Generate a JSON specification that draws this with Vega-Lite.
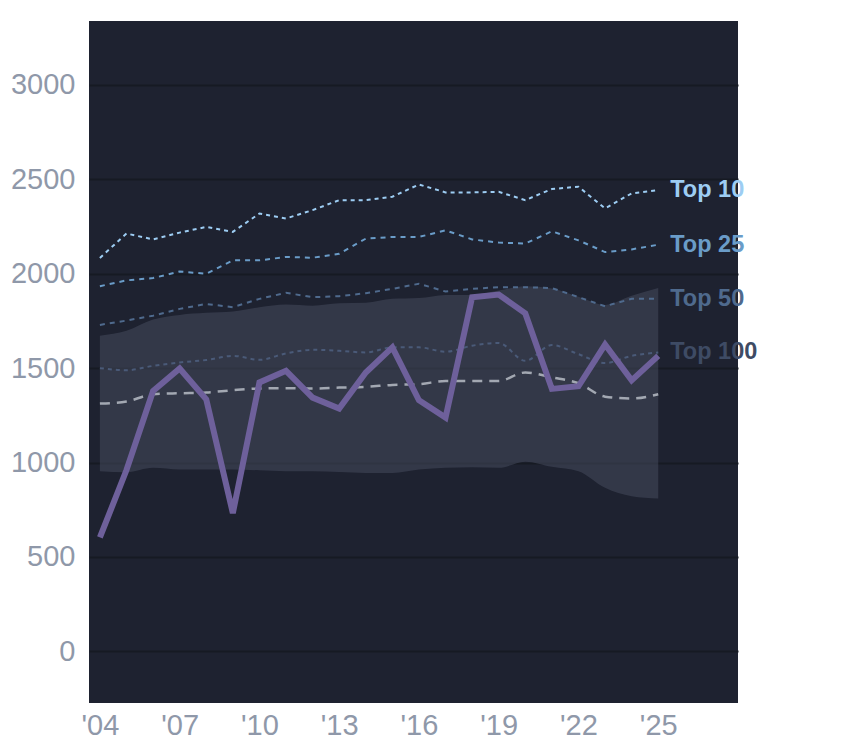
{
  "$schema": "https://vega.github.io/schema/vega-lite/v6.json",
  "width": 649,
  "height": 682,
  "autosize": "none",
  "padding": {"left": 89, "top": 21, "right": 106, "bottom": 45},
  "background": "#ffffff",
  "config": {
    "view": {"fill": "#1e2230", "stroke": null},
    "font": "Liberation Sans"
  },
  "datasets": {
    "band": [
      {"year": 2004, "lo": 954, "hi": 1672},
      {"year": 2005, "lo": 949, "hi": 1698},
      {"year": 2006, "lo": 972, "hi": 1757},
      {"year": 2007, "lo": 963, "hi": 1782},
      {"year": 2008, "lo": 963, "hi": 1793},
      {"year": 2009, "lo": 963, "hi": 1800},
      {"year": 2010, "lo": 959, "hi": 1823},
      {"year": 2011, "lo": 954, "hi": 1837},
      {"year": 2012, "lo": 954, "hi": 1831},
      {"year": 2013, "lo": 950, "hi": 1844},
      {"year": 2014, "lo": 945, "hi": 1846},
      {"year": 2015, "lo": 945, "hi": 1867},
      {"year": 2016, "lo": 963, "hi": 1871},
      {"year": 2017, "lo": 972, "hi": 1888},
      {"year": 2018, "lo": 975, "hi": 1888},
      {"year": 2019, "lo": 972, "hi": 1911},
      {"year": 2020, "lo": 1004, "hi": 1934},
      {"year": 2021, "lo": 977, "hi": 1922},
      {"year": 2022, "lo": 954, "hi": 1878},
      {"year": 2023, "lo": 866, "hi": 1835},
      {"year": 2024, "lo": 821, "hi": 1883},
      {"year": 2025, "lo": 809, "hi": 1925}
    ],
    "tops": [
      {"year": 2004, "series": "Top 10", "value": 2084},
      {"year": 2005, "series": "Top 10", "value": 2213},
      {"year": 2006, "series": "Top 10", "value": 2182},
      {"year": 2007, "series": "Top 10", "value": 2218},
      {"year": 2008, "series": "Top 10", "value": 2248},
      {"year": 2009, "series": "Top 10", "value": 2222},
      {"year": 2010, "series": "Top 10", "value": 2319},
      {"year": 2011, "series": "Top 10", "value": 2293},
      {"year": 2012, "series": "Top 10", "value": 2337},
      {"year": 2013, "series": "Top 10", "value": 2390},
      {"year": 2014, "series": "Top 10", "value": 2390},
      {"year": 2015, "series": "Top 10", "value": 2408},
      {"year": 2016, "series": "Top 10", "value": 2473},
      {"year": 2017, "series": "Top 10", "value": 2431},
      {"year": 2018, "series": "Top 10", "value": 2431},
      {"year": 2019, "series": "Top 10", "value": 2434},
      {"year": 2020, "series": "Top 10", "value": 2390},
      {"year": 2021, "series": "Top 10", "value": 2449},
      {"year": 2022, "series": "Top 10", "value": 2461},
      {"year": 2023, "series": "Top 10", "value": 2346},
      {"year": 2024, "series": "Top 10", "value": 2426},
      {"year": 2025, "series": "Top 10", "value": 2443},
      {"year": 2004, "series": "Top 25", "value": 1934},
      {"year": 2005, "series": "Top 25", "value": 1965},
      {"year": 2006, "series": "Top 25", "value": 1977},
      {"year": 2007, "series": "Top 25", "value": 2012},
      {"year": 2008, "series": "Top 25", "value": 2000},
      {"year": 2009, "series": "Top 25", "value": 2071},
      {"year": 2010, "series": "Top 25", "value": 2071},
      {"year": 2011, "series": "Top 25", "value": 2089},
      {"year": 2012, "series": "Top 25", "value": 2085},
      {"year": 2013, "series": "Top 25", "value": 2106},
      {"year": 2014, "series": "Top 25", "value": 2186},
      {"year": 2015, "series": "Top 25", "value": 2195},
      {"year": 2016, "series": "Top 25", "value": 2195},
      {"year": 2017, "series": "Top 25", "value": 2230},
      {"year": 2018, "series": "Top 25", "value": 2182},
      {"year": 2019, "series": "Top 25", "value": 2165},
      {"year": 2020, "series": "Top 25", "value": 2160},
      {"year": 2021, "series": "Top 25", "value": 2225},
      {"year": 2022, "series": "Top 25", "value": 2177},
      {"year": 2023, "series": "Top 25", "value": 2115},
      {"year": 2024, "series": "Top 25", "value": 2129},
      {"year": 2025, "series": "Top 25", "value": 2154},
      {"year": 2004, "series": "Top 50", "value": 1729},
      {"year": 2005, "series": "Top 50", "value": 1752},
      {"year": 2006, "series": "Top 50", "value": 1778},
      {"year": 2007, "series": "Top 50", "value": 1814},
      {"year": 2008, "series": "Top 50", "value": 1840},
      {"year": 2009, "series": "Top 50", "value": 1823},
      {"year": 2010, "series": "Top 50", "value": 1867},
      {"year": 2011, "series": "Top 50", "value": 1899},
      {"year": 2012, "series": "Top 50", "value": 1876},
      {"year": 2013, "series": "Top 50", "value": 1881},
      {"year": 2014, "series": "Top 50", "value": 1897},
      {"year": 2015, "series": "Top 50", "value": 1920},
      {"year": 2016, "series": "Top 50", "value": 1947},
      {"year": 2017, "series": "Top 50", "value": 1906},
      {"year": 2018, "series": "Top 50", "value": 1920},
      {"year": 2019, "series": "Top 50", "value": 1929},
      {"year": 2020, "series": "Top 50", "value": 1929},
      {"year": 2021, "series": "Top 50", "value": 1924},
      {"year": 2022, "series": "Top 50", "value": 1876},
      {"year": 2023, "series": "Top 50", "value": 1828},
      {"year": 2024, "series": "Top 50", "value": 1867},
      {"year": 2025, "series": "Top 50", "value": 1867},
      {"year": 2004, "series": "Top 100", "value": 1500},
      {"year": 2005, "series": "Top 100", "value": 1489},
      {"year": 2006, "series": "Top 100", "value": 1512},
      {"year": 2007, "series": "Top 100", "value": 1530},
      {"year": 2008, "series": "Top 100", "value": 1543},
      {"year": 2009, "series": "Top 100", "value": 1565},
      {"year": 2010, "series": "Top 100", "value": 1544},
      {"year": 2011, "series": "Top 100", "value": 1578},
      {"year": 2012, "series": "Top 100", "value": 1597},
      {"year": 2013, "series": "Top 100", "value": 1592},
      {"year": 2014, "series": "Top 100", "value": 1583},
      {"year": 2015, "series": "Top 100", "value": 1610},
      {"year": 2016, "series": "Top 100", "value": 1610},
      {"year": 2017, "series": "Top 100", "value": 1587},
      {"year": 2018, "series": "Top 100", "value": 1619},
      {"year": 2019, "series": "Top 100", "value": 1633},
      {"year": 2020, "series": "Top 100", "value": 1539},
      {"year": 2021, "series": "Top 100", "value": 1622},
      {"year": 2022, "series": "Top 100", "value": 1574},
      {"year": 2023, "series": "Top 100", "value": 1527},
      {"year": 2024, "series": "Top 100", "value": 1565},
      {"year": 2025, "series": "Top 100", "value": 1583}
    ],
    "median": [
      {"year": 2004, "value": 1312},
      {"year": 2005, "value": 1323},
      {"year": 2006, "value": 1362},
      {"year": 2007, "value": 1367},
      {"year": 2008, "value": 1371},
      {"year": 2009, "value": 1383},
      {"year": 2010, "value": 1392},
      {"year": 2011, "value": 1394},
      {"year": 2012, "value": 1392},
      {"year": 2013, "value": 1397},
      {"year": 2014, "value": 1401},
      {"year": 2015, "value": 1411},
      {"year": 2016, "value": 1415},
      {"year": 2017, "value": 1432},
      {"year": 2018, "value": 1432},
      {"year": 2019, "value": 1432},
      {"year": 2020, "value": 1477},
      {"year": 2021, "value": 1451},
      {"year": 2022, "value": 1420},
      {"year": 2023, "value": 1349},
      {"year": 2024, "value": 1339},
      {"year": 2025, "value": 1362}
    ],
    "main": [
      {"year": 2004, "value": 603},
      {"year": 2005, "value": 960},
      {"year": 2006, "value": 1379},
      {"year": 2007, "value": 1498},
      {"year": 2008, "value": 1335},
      {"year": 2009, "value": 732},
      {"year": 2010, "value": 1424},
      {"year": 2011, "value": 1486},
      {"year": 2012, "value": 1344},
      {"year": 2013, "value": 1286},
      {"year": 2014, "value": 1477},
      {"year": 2015, "value": 1610},
      {"year": 2016, "value": 1330},
      {"year": 2017, "value": 1238},
      {"year": 2018, "value": 1876},
      {"year": 2019, "value": 1890},
      {"year": 2020, "value": 1790},
      {"year": 2021, "value": 1390},
      {"year": 2022, "value": 1404},
      {"year": 2023, "value": 1625},
      {"year": 2024, "value": 1435},
      {"year": 2025, "value": 1565}
    ]
  },
  "layer": [
    {
      "data": {"name": "band"},
      "mark": {"type": "area", "color": "#464b5c", "opacity": 0.55, "interpolate": "monotone"},
      "encoding": {
        "x": {
          "field": "year", "type": "quantitative",
          "scale": {"domain": [2003.59, 2028.0], "nice": false, "zero": false},
          "axis": {
            "values": [2004, 2007, 2010, 2013, 2016, 2019, 2022, 2025],
            "labelExpr": "\"'\" + substring(toString(datum.value), 2)",
            "grid": false, "domain": false, "ticks": false,
            "labelFontSize": 29, "labelColor": "#8f98a9", "labelPadding": 8,
            "labelFont": "Liberation Sans", "labelFlush": false, "title": null
          }
        },
        "y": {
          "field": "lo", "type": "quantitative",
          "scale": {"domain": [-274, 3339], "nice": false, "zero": false},
          "axis": {
            "values": [0, 500, 1000, 1500, 2000, 2500, 3000],
            "format": "d",
            "grid": true, "gridColor": "#161a23", "gridWidth": 2,
            "domain": false, "ticks": false,
            "labelFontSize": 29, "labelColor": "#8f98a9", "labelPadding": 14,
            "labelFont": "Liberation Sans", "labelFlush": false, "title": null
          }
        },
        "y2": {"field": "hi"}
      }
    },
    {
      "data": {"name": "tops"},
      "transform": [{"filter": "datum.series !== 'Top 100'"}],
      "mark": {"type": "line", "strokeWidth": 2},
      "encoding": {
        "x": {"field": "year", "type": "quantitative"},
        "y": {"field": "value", "type": "quantitative"},
        "color": {
          "field": "series", "type": "nominal",
          "scale": {"domain": ["Top 10", "Top 25", "Top 50", "Top 100"], "range": ["#9dcdf3", "#6a9cc8", "#4f6a8d", "#3e4b64"]},
          "legend": null
        },
        "strokeDash": {
          "field": "series", "type": "nominal",
          "scale": {"domain": ["Top 10", "Top 25", "Top 50"], "range": [[4, 4], [5, 5], [5, 5]]},
          "legend": null
        }
      }
    },
    {
      "data": {"name": "tops"},
      "transform": [{"filter": "datum.series === 'Top 100'"}],
      "mark": {"type": "line", "strokeWidth": 2, "color": "#4a5a78", "strokeDash": [4, 4], "interpolate": "monotone"},
      "encoding": {
        "x": {"field": "year", "type": "quantitative"},
        "y": {"field": "value", "type": "quantitative"}
      }
    },
    {
      "data": {"name": "median"},
      "mark": {"type": "line", "strokeWidth": 2.5, "color": "#a3a8b2", "strokeDash": [10, 7], "interpolate": "monotone"},
      "encoding": {
        "x": {"field": "year", "type": "quantitative"},
        "y": {"field": "value", "type": "quantitative"}
      }
    },
    {
      "data": {"name": "main"},
      "mark": {"type": "line", "strokeWidth": 6, "color": "#6e609b", "strokeJoin": "miter"},
      "encoding": {
        "x": {"field": "year", "type": "quantitative"},
        "y": {"field": "value", "type": "quantitative"}
      }
    },
    {
      "data": {"name": "tops"},
      "transform": [{"filter": "datum.year === 2025"}],
      "mark": {"type": "text", "align": "left", "baseline": "middle", "dx": 12, "fontSize": 23.5, "fontWeight": "bold", "font": "Liberation Sans"},
      "encoding": {
        "x": {"field": "year", "type": "quantitative"},
        "y": {"field": "value", "type": "quantitative"},
        "text": {"field": "series"},
        "color": {"field": "series", "type": "nominal", "legend": null}
      }
    }
  ]
}
